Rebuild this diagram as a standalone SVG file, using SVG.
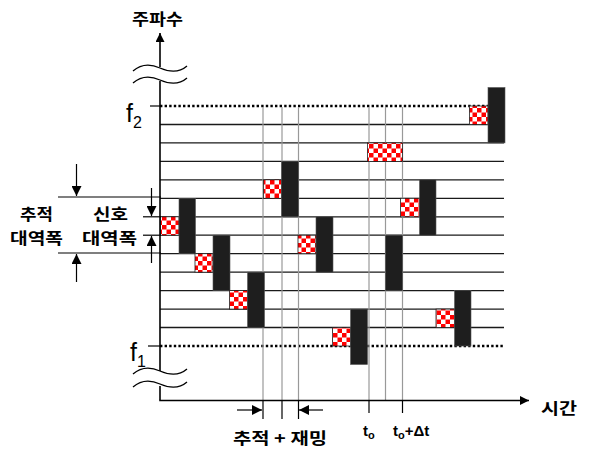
<svg xmlns="http://www.w3.org/2000/svg" width="591" height="449" viewBox="0 0 591 449">
  <defs>
    <pattern id="check" width="9" height="9" patternUnits="userSpaceOnUse">
      <rect width="9" height="9" fill="#ffffff"/>
      <rect width="4.5" height="4.5" fill="#ff0000"/>
      <rect x="4.5" y="4.5" width="4.5" height="4.5" fill="#ff0000"/>
    </pattern>
    <marker id="arr" viewBox="0 0 10 10" refX="10" refY="5" markerWidth="10" markerHeight="10" markerUnits="userSpaceOnUse" orient="auto">
      <path d="M0,0 L10,5 L0,10 Z" fill="#000"/>
    </marker>
    <marker id="arrBig" viewBox="0 0 10 10" refX="10" refY="5" markerWidth="11" markerHeight="9" markerUnits="userSpaceOnUse" orient="auto">
      <path d="M0,0 L10,5 L0,10 Z" fill="#000"/>
    </marker>
  </defs>
  <style>
    .band { stroke: #1a1a1a; stroke-width: 1.3; fill: none; }
    .dot { stroke: #000; stroke-width: 2.6; stroke-dasharray: 2.4 2.2; fill: none; }
    .guide { stroke: #999; stroke-width: 1.2; fill: none; }
    .tick { stroke: #000; stroke-width: 1.2; fill: none; }
    .axis { stroke: #000; stroke-width: 1.6; fill: none; }
    .wave { stroke: #000; stroke-width: 1.3; fill: none; }
    .chk { fill: url(#check); stroke: #222; stroke-width: 0.8; }
    .bar { fill: #1e1e1e; stroke: #555; stroke-width: 0.6; }
    .ko { font-family: "Noto Sans CJK KR", "Noto Sans", sans-serif; font-weight: bold; font-size: 16px; fill: #000; }
    .lat { font-family: "Liberation Sans", Arial, sans-serif; fill: #000; }
  </style>

  <!-- frequency channel grid -->
  <g id="grid">
    <line class="dot" x1="160" y1="106" x2="504" y2="106"/>
    <line class="band" x1="160" y1="124.5" x2="504" y2="124.5"/>
    <line class="band" x1="160" y1="142.9" x2="504" y2="142.9"/>
    <line class="band" x1="160" y1="161.4" x2="504" y2="161.4"/>
    <line class="band" x1="160" y1="179.8" x2="504" y2="179.8"/>
    <line class="band" x1="160" y1="198.3" x2="504" y2="198.3"/>
    <line class="band" x1="160" y1="216.8" x2="504" y2="216.8"/>
    <line class="band" x1="160" y1="235.2" x2="504" y2="235.2"/>
    <line class="band" x1="160" y1="253.7" x2="504" y2="253.7"/>
    <line class="band" x1="160" y1="272.2" x2="504" y2="272.2"/>
    <line class="band" x1="160" y1="290.6" x2="504" y2="290.6"/>
    <line class="band" x1="160" y1="309.1" x2="504" y2="309.1"/>
    <line class="band" x1="160" y1="327.5" x2="504" y2="327.5"/>
    <line class="dot" x1="160" y1="346" x2="504" y2="346"/>
    <!-- time guides -->
    <line class="guide" x1="263" y1="107" x2="263" y2="400"/>
    <line class="guide" x1="282" y1="107" x2="282" y2="400"/>
    <line class="guide" x1="298.5" y1="107" x2="298.5" y2="400"/>
    <line class="guide" x1="369" y1="107" x2="369" y2="400"/>
    <line class="guide" x1="385.5" y1="107" x2="385.5" y2="400"/>
    <line class="guide" x1="402.5" y1="107" x2="402.5" y2="400"/>
  </g>

  <!-- signal hops (checker) and jamming bursts (black) -->
  <g id="hop-a">
    <rect class="chk" x="160.5" y="216.8" width="18.5" height="18.4"/>
    <rect class="bar" x="179" y="198.3" width="16.5" height="55.4"/>
  </g>
  <g id="hop-b">
    <rect class="chk" x="195" y="253.7" width="18" height="18.5"/>
    <rect class="bar" x="213" y="235.2" width="17" height="55.4"/>
  </g>
  <g id="hop-c">
    <rect class="chk" x="229.5" y="290.6" width="18" height="18.5"/>
    <rect class="bar" x="247.5" y="272.2" width="17" height="55.3"/>
  </g>
  <g id="hop-e">
    <rect class="chk" x="263.5" y="179.8" width="18" height="18.5"/>
    <rect class="bar" x="281.5" y="161.4" width="17" height="55.4"/>
  </g>
  <g id="hop-f">
    <rect class="chk" x="298" y="235.2" width="18" height="18.5"/>
    <rect class="bar" x="316" y="216.8" width="17" height="55.4"/>
  </g>
  <g id="hop-d">
    <rect class="chk" x="332.5" y="327.5" width="18" height="18.5"/>
    <rect class="bar" x="350.5" y="309.1" width="17" height="55.4"/>
  </g>
  <g id="hop-g">
    <rect class="chk" x="367.5" y="142.9" width="35" height="18.5"/>
  </g>
  <g id="burst-i">
    <rect class="bar" x="385.5" y="235.2" width="17" height="55.4"/>
  </g>
  <g id="hop-h">
    <rect class="chk" x="400.5" y="198.3" width="19" height="18.5"/>
    <rect class="bar" x="419.5" y="179.8" width="16.5" height="55.4"/>
  </g>
  <g id="hop-j">
    <rect class="chk" x="436" y="309.1" width="18.5" height="18.4"/>
    <rect class="bar" x="454.5" y="290.6" width="16.5" height="55.4"/>
  </g>
  <g id="hop-k">
    <rect class="chk" x="469.5" y="106" width="18.5" height="18.5"/>
    <rect class="bar" x="488" y="87.5" width="17" height="55.4"/>
  </g>

  <!-- axes, ticks and dimension arrows -->
  <g id="connectors">
    <!-- frequency axis with breaks -->
    <line class="axis" x1="160" y1="400" x2="160" y2="386" />
    <line class="axis" x1="160" y1="371" x2="160" y2="81" />
    <line class="axis" x1="160" y1="67" x2="160" y2="33" marker-end="url(#arrBig)"/>
    <path class="wave" d="M133,71 C141,64 151,64 160,68 S179,73 187,66"/>
    <path class="wave" d="M133,83 C141,76 151,76 160,80 S179,85 187,78"/>
    <path class="wave" d="M133,374 C141,367 151,367 160,371 S179,376 187,369"/>
    <path class="wave" d="M133,387 C141,380 151,380 160,384 S179,389 187,382"/>
    <!-- time axis -->
    <line class="axis" x1="159.2" y1="400.5" x2="529" y2="400.5" marker-end="url(#arrBig)"/>
    <!-- f ticks -->
    <line class="tick" x1="150" y1="106" x2="160" y2="106"/>
    <line class="tick" x1="148" y1="346" x2="160" y2="346"/>
    <!-- time ticks below axis -->
    <line class="tick" x1="263" y1="400" x2="263" y2="419"/>
    <line class="tick" x1="282" y1="400" x2="282" y2="419"/>
    <line class="tick" x1="298.5" y1="400" x2="298.5" y2="419"/>
    <line class="tick" x1="369" y1="400" x2="369" y2="413"/>
    <line class="tick" x1="402.5" y1="400" x2="402.5" y2="413"/>
    <!-- tracking + jamming arrows -->
    <line class="tick" x1="237" y1="410" x2="262" y2="410" marker-end="url(#arr)"/>
    <line class="tick" x1="323" y1="410" x2="299" y2="410" marker-end="url(#arr)"/>
    <!-- tracking bandwidth -->
    <line class="tick" x1="58" y1="197" x2="161" y2="197"/>
    <line class="tick" x1="58" y1="253" x2="161" y2="253"/>
    <line class="tick" x1="76.5" y1="164" x2="76.5" y2="196" marker-end="url(#arr)"/>
    <line class="tick" x1="76.5" y1="282" x2="76.5" y2="254" marker-end="url(#arr)"/>
    <!-- signal bandwidth -->
    <line class="tick" x1="143" y1="216.8" x2="161" y2="216.8"/>
    <line class="tick" x1="143" y1="235.2" x2="161" y2="235.2"/>
    <line class="tick" x1="151.5" y1="188" x2="151.5" y2="216" marker-end="url(#arr)"/>
    <line class="tick" x1="151.5" y1="263" x2="151.5" y2="236" marker-end="url(#arr)"/>
  </g>

  <!-- labels -->
  <g id="labels">
    <text class="ko" x="132" y="24.5" font-size="17" textLength="51" lengthAdjust="spacingAndGlyphs">주파수</text>
    <text class="ko" x="541" y="413.5" font-size="17" textLength="36" lengthAdjust="spacingAndGlyphs">시간</text>
    <text class="ko" x="20" y="220" textLength="33" lengthAdjust="spacingAndGlyphs">추적</text>
    <text class="ko" x="10" y="243.5" textLength="53" lengthAdjust="spacingAndGlyphs">대역폭</text>
    <text class="ko" x="93" y="220" textLength="35" lengthAdjust="spacingAndGlyphs">신호</text>
    <text class="ko" x="82" y="243.5" textLength="55" lengthAdjust="spacingAndGlyphs">대역폭</text>
    <text class="ko" x="233" y="444" textLength="94" lengthAdjust="spacingAndGlyphs">추적 + 재밍</text>
    <text class="lat" x="126" y="122" font-size="25">f<tspan font-size="16" dy="6">2</tspan></text>
    <text class="lat" x="130" y="361" font-size="25">f<tspan font-size="16" dy="6">1</tspan></text>
    <text class="lat" x="363" y="436" font-size="15" font-weight="bold">t<tspan font-size="11" dy="3">o</tspan></text>
    <text class="lat" x="393" y="436" font-size="15" font-weight="bold">t<tspan font-size="11" dy="3">o</tspan><tspan dy="-3">+Δt</tspan></text>
  </g>
</svg>
